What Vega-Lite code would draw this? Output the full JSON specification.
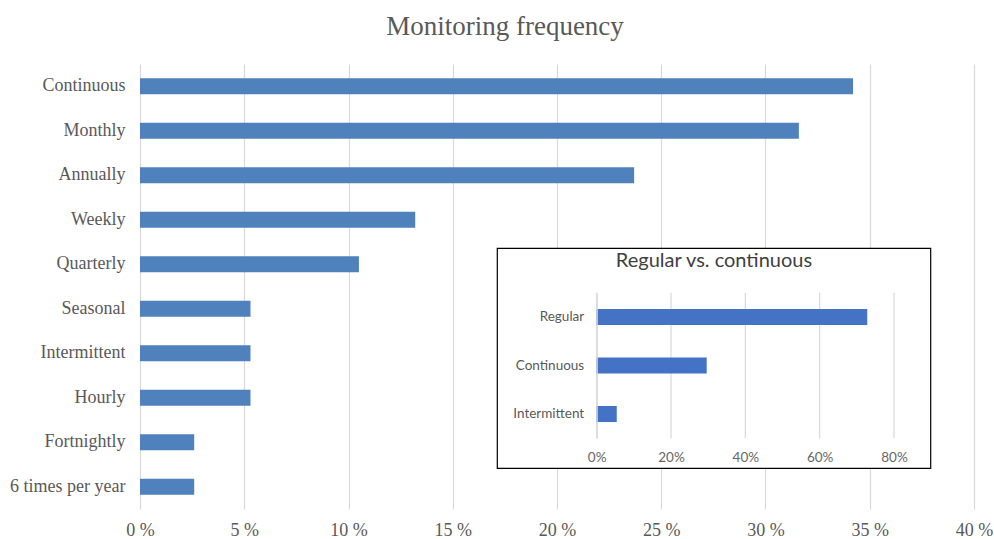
{
  "$schema": "https://vega.github.io/schema/vega-lite/v6.json",
  "width": 834,
  "height": 445,
  "autosize": {"type": "none"},
  "padding": {"left": 140, "top": 64, "right": 20, "bottom": 30},
  "background": "white",
  "title": {
    "text": "Monitoring frequency",
    "font": "Liberation Serif",
    "fontSize": 27,
    "fontWeight": "normal",
    "color": "#595959",
    "anchor": "middle",
    "frame": "group",
    "baseline": "alphabetic",
    "offset": 2,
    "dx": -52
  },
  "config": {"view": {"stroke": null}},
  "resolve": {
    "scale": {"x": "independent", "y": "independent"},
    "axis": {"x": "independent", "y": "independent"}
  },
  "layer": [
    {
      "data": {
        "values": [
          {"frequency": "Continuous", "share": 0.342},
          {"frequency": "Monthly", "share": 0.316},
          {"frequency": "Annually", "share": 0.237},
          {"frequency": "Weekly", "share": 0.132},
          {"frequency": "Quarterly", "share": 0.105},
          {"frequency": "Seasonal", "share": 0.053},
          {"frequency": "Intermittent", "share": 0.053},
          {"frequency": "Hourly", "share": 0.053},
          {"frequency": "Fortnightly", "share": 0.026},
          {"frequency": "6 times per year", "share": 0.026}
        ]
      },
      "mark": {"type": "bar", "color": "#4f81bd"},
      "encoding": {
        "y": {
          "field": "frequency",
          "type": "nominal",
          "sort": null,
          "scale": {"paddingInner": 0.64, "paddingOuter": 0.32},
          "axis": {
            "orient": "left",
            "title": null,
            "domain": false,
            "ticks": false,
            "labelFont": "Liberation Serif",
            "labelFontSize": 18,
            "labelColor": "#595959",
            "labelPadding": 15
          }
        },
        "x": {
          "field": "share",
          "type": "quantitative",
          "scale": {"domain": [0, 0.4], "nice": false},
          "axis": {
            "orient": "bottom",
            "title": null,
            "values": [0, 0.05, 0.1, 0.15, 0.2, 0.25, 0.3, 0.35, 0.4],
            "labelExpr": "format(datum.value * 100, 'd') + ' %'",
            "labelFlush": false,
            "grid": true,
            "gridColor": "#d9d9d9",
            "gridWidth": 1.2,
            "domain": false,
            "ticks": false,
            "labelFont": "Liberation Serif",
            "labelFontSize": 18,
            "labelColor": "#595959",
            "labelPadding": 12
          }
        }
      }
    },
    {
      "data": {"values": [{"box": "inset"}]},
      "mark": {"type": "rect", "fill": "white", "stroke": "#000000", "strokeWidth": 1.2},
      "encoding": {
        "x": {"datum": 0, "type": "quantitative", "scale": {"domain": [0, 1], "range": [357.3, 790.7], "nice": false, "zero": false}, "axis": null},
        "x2": {"datum": 1},
        "y": {"datum": 0, "type": "quantitative", "scale": {"domain": [0, 1], "range": [184.3, 404.3], "nice": false, "zero": false}, "axis": null},
        "y2": {"datum": 1}
      }
    },
    {
      "data": {"values": [{"tick": 0}, {"tick": 0.2}, {"tick": 0.4}, {"tick": 0.6}, {"tick": 0.8}]},
      "mark": {"type": "rule", "color": "#d9d9d9", "strokeWidth": 1.2},
      "encoding": {
        "x": {"field": "tick", "type": "quantitative", "scale": {"domain": [0, 0.8], "range": [456.7, 754], "nice": false, "zero": false}, "axis": null},
        "y": {"datum": 0, "type": "quantitative", "scale": {"domain": [0, 1], "range": [374.3, 228.7], "nice": false, "zero": false}, "axis": null},
        "y2": {"datum": 1}
      }
    },
    {
      "data": {
        "values": [
          {"category": "Regular", "value": 0.728},
          {"category": "Continuous", "value": 0.296},
          {"category": "Intermittent", "value": 0.054}
        ]
      },
      "mark": {"type": "bar", "color": "#4472c4"},
      "encoding": {
        "y": {
          "field": "category",
          "type": "nominal",
          "sort": null,
          "scale": {"range": [228.7, 374.3], "paddingInner": 0.67, "paddingOuter": 0.335},
          "axis": {
            "orient": "left",
            "offset": -456.7,
            "title": null,
            "domain": true,
            "domainColor": "#d9d9d9",
            "domainWidth": 1.2,
            "ticks": false,
            "grid": false,
            "labelFont": "Lato",
            "labelFontSize": 13.5,
            "labelColor": "#595959",
            "labelPadding": 13,
            "zindex": 1
          }
        },
        "x": {
          "field": "value",
          "type": "quantitative",
          "scale": {"domain": [0, 0.8], "range": [456.7, 754], "nice": false, "zero": false},
          "axis": {
            "orient": "bottom",
            "offset": -61,
            "title": null,
            "values": [0, 0.2, 0.4, 0.6, 0.8],
            "format": ".0%",
            "labelFlush": false,
            "grid": false,
            "domain": false,
            "ticks": false,
            "labelFont": "Lato",
            "labelFontSize": 13.5,
            "labelColor": "#666666",
            "labelPadding": 2,
            "zindex": 1
          }
        }
      }
    },
    {
      "data": {"values": [{"title": "Regular vs. continuous"}]},
      "mark": {"type": "text", "font": "Lato", "fontSize": 20, "color": "#404040", "align": "center", "baseline": "alphabetic", "dy": 18.5},
      "encoding": {
        "text": {"field": "title", "type": "nominal"},
        "x": {"datum": 0.5, "type": "quantitative", "scale": {"domain": [0, 1], "range": [357.3, 790.7], "nice": false, "zero": false}, "axis": null},
        "y": {"datum": 0, "type": "quantitative", "scale": {"domain": [0, 1], "range": [184.3, 404.3], "nice": false, "zero": false}, "axis": null}
      }
    }
  ]
}
